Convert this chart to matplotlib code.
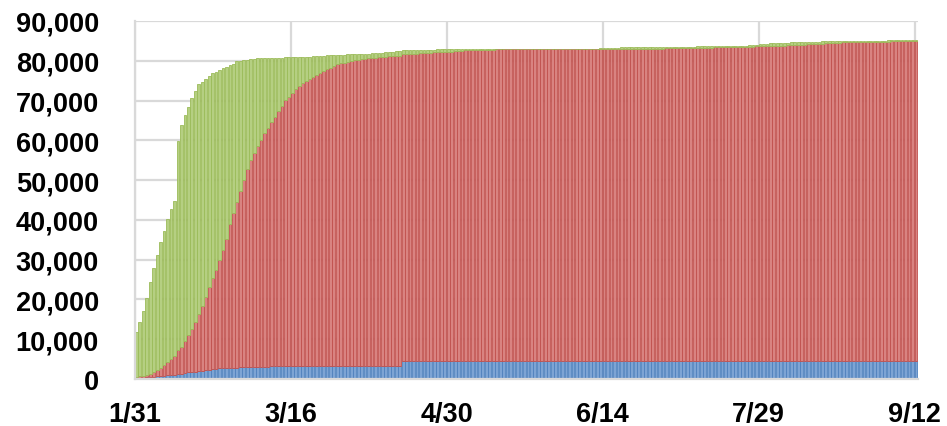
import numpy as np
import matplotlib
matplotlib.use('Agg')
import matplotlib.pyplot as plt
from matplotlib.ticker import FuncFormatter

# cumulative confirmed cases, one value per day from 1/31 to 9/12
confirmed_jan = [11791]
confirmed_feb = [14380, 17205, 20438, 24324, 28018, 31161, 34546, 37198, 40171, 42638,
                 44653, 59804, 63851, 66492, 68500, 70548, 72436, 74185, 74576, 75465,
                 76288, 76936, 77150, 77658, 78064, 78497, 78824, 79251, 79824]
confirmed_mar = [80026, 80151, 80270, 80409, 80552, 80651, 80695, 80735, 80754, 80778,
                 80793, 80813, 80824, 80844, 80860, 80881, 80894, 80928, 80967, 81008,
                 81054, 81093, 81171, 81218, 81285, 81340, 81394, 81439, 81470, 81518, 81554]
confirmed_apr = [81589, 81620, 81639, 81669, 81708, 81740, 81802, 81865, 81907, 81953,
                 82052, 82160, 82249, 82295, 82341, 82367, 82692, 82719, 82735, 82747,
                 82788, 82798, 82804, 82816, 82827, 82830, 82836, 82858, 82862, 82874]
confirmed_may = [82875, 82877, 82880, 82881, 82883, 82885, 82886, 82887, 82901, 82918,
                 82919, 82926, 82929, 82933, 82941, 82947, 82954, 82960, 82965, 82967,
                 82971, 82971, 82974, 82985, 82992, 82993, 82995, 82995, 82999, 83001, 83017]
confirmed_jun = [83022, 83021, 83022, 83027, 83030, 83036, 83040, 83043, 83046, 83057,
                 83064, 83075, 83132, 83181, 83221, 83265, 83293, 83325, 83352, 83378,
                 83396, 83418, 83430, 83449, 83462, 83483, 83500, 83512, 83531, 83534]
confirmed_jul = [83537, 83542, 83545, 83553, 83557, 83565, 83572, 83581, 83585, 83587,
                 83594, 83602, 83605, 83611, 83612, 83622, 83644, 83660, 83682, 83693,
                 83707, 83729, 83750, 83784, 83830, 83891, 83959, 84060, 84165, 84292, 84337]
confirmed_aug = [84385, 84428, 84464, 84491, 84528, 84565, 84596, 84619, 84668, 84712,
                 84737, 84756, 84786, 84808, 84827, 84849, 84871, 84888, 84895, 84917,
                 84939, 84951, 84967, 84981, 84996, 85004, 85013, 85022, 85031, 85048, 85058]
confirmed_sep = [85066, 85077, 85088, 85098, 85112, 85122, 85134, 85144, 85146, 85153,
                 85168, 85174]

# cumulative deaths
deaths_jan = [259]
deaths_feb = [304, 361, 425, 490, 563, 636, 722, 811, 908, 1016,
              1113, 1367, 1380, 1523, 1665, 1770, 1868, 2004, 2118, 2236,
              2345, 2442, 2592, 2663, 2715, 2744, 2788, 2835, 2870]
deaths_mar = [2912, 2943, 2981, 3012, 3042, 3070, 3097, 3119, 3136, 3158,
              3169, 3176, 3189, 3199, 3213, 3226, 3237, 3245, 3248, 3255,
              3261, 3270, 3277, 3281, 3287, 3292, 3295, 3300, 3304, 3305, 3312]
deaths_apr = [3318, 3322, 3326, 3329, 3331, 3331, 3333, 3335, 3336, 3339,
              3339, 3341, 3341, 3341, 3342, 3342, 4632, 4632, 4632, 4632,
              4632, 4632, 4632, 4632, 4632, 4632, 4632, 4632, 4632, 4632]
deaths_may = [4632, 4632, 4632, 4632, 4632, 4632, 4632, 4632, 4632, 4632,
              4632, 4632, 4632, 4632, 4632, 4633, 4633, 4633, 4633, 4633,
              4633, 4633, 4633, 4633, 4633, 4633, 4633, 4633, 4633, 4633, 4633]
deaths_jun = [4634, 4634, 4634, 4634, 4634, 4634, 4634, 4634, 4634, 4634,
              4634, 4634, 4634, 4634, 4634, 4634, 4634, 4634, 4634, 4634,
              4634, 4634, 4634, 4634, 4634, 4634, 4634, 4634, 4634, 4634]
deaths_jul = [4634, 4634, 4634, 4634, 4634, 4634, 4634, 4634, 4634, 4634,
              4634, 4634, 4634, 4634, 4634, 4634, 4634, 4634, 4634, 4634,
              4634, 4634, 4634, 4634, 4634, 4634, 4634, 4634, 4634, 4634, 4634]
deaths_aug = [4634, 4634, 4634, 4634, 4634, 4634, 4634, 4634, 4634, 4634,
              4634, 4634, 4634, 4634, 4634, 4634, 4634, 4634, 4634, 4634,
              4634, 4634, 4634, 4634, 4634, 4634, 4634, 4634, 4634, 4634, 4634]
deaths_sep = [4634, 4634, 4634, 4634, 4634, 4634, 4634, 4634, 4634, 4634,
              4634, 4634]

# cumulative recovered
recovered_jan = [243]
recovered_feb = [328, 475, 632, 892, 1153, 1540, 2050, 2649, 3281, 3996,
                 4740, 5911, 6723, 8096, 9419, 10844, 12552, 14376, 16155, 18264,
                 20659, 22888, 24734, 27323, 29745, 32495, 36117, 39002, 41625]
recovered_mar = [44462, 47204, 49856, 52045, 53726, 55404, 57065, 58600, 59897, 61475,
                 62793, 64111, 65541, 66911, 67749, 68679, 69601, 70420, 71150, 71740,
                 72244, 72703, 73159, 73650, 74051, 74588, 74971, 75448, 75770, 76052, 76238]
recovered_apr = [76408, 76571, 76751, 76964, 77078, 77167, 77279, 77370, 77455, 77525,
                 77575, 77663, 77738, 77816, 77892, 77944, 77062, 77084, 77125, 77150,
                 77151, 77207, 77257, 77346, 77394, 77474, 77555, 77578, 77610, 77642]
recovered_may = [77685, 77766, 77853, 77911, 77957, 78046, 78120, 78142, 78171, 78185,
                 78189, 78195, 78200, 78209, 78219, 78227, 78238, 78241, 78244, 78249,
                 78258, 78261, 78264, 78268, 78268, 78268, 78277, 78280, 78284, 78291, 78307]
recovered_jun = [78313, 78314, 78319, 78321, 78323, 78327, 78328, 78332, 78335, 78339,
                 78345, 78348, 78351, 78355, 78359, 78363, 78365, 78367, 78367, 78368,
                 78372, 78377, 78384, 78392, 78399, 78407, 78413, 78420, 78427, 78437]
recovered_jul = [78447, 78460, 78473, 78484, 78496, 78509, 78521, 78542, 78561, 78585,
                 78604, 78626, 78655, 78674, 78700, 78722, 78751, 78777, 78800, 78820,
                 78840, 78857, 78872, 78889, 78905, 78918, 78940, 78963, 78985, 79004, 79027]
recovered_aug = [79050, 79078, 79110, 79145, 79180, 79220, 79263, 79305, 79355, 79400,
                 79447, 79495, 79540, 79595, 79645, 79695, 79746, 79795, 79845, 79885,
                 79930, 79965, 80000, 80030, 80055, 80080, 80100, 80120, 80135, 80150, 80163]
recovered_sep = [80176, 80189, 80201, 80212, 80222, 80231, 80240, 80250, 80261, 80272,
                 80282, 80294]

tick_labels = ['1/31', '3/16', '4/30', '6/14', '7/29', '9/12']
tick_days = [0, 45, 90, 135, 180, 225]


def join(*months):
    return np.array([v for m in months for v in m], dtype=float)


confirmed = join(confirmed_jan, confirmed_feb, confirmed_mar, confirmed_apr, confirmed_may,
                 confirmed_jun, confirmed_jul, confirmed_aug, confirmed_sep)
deaths = join(deaths_jan, deaths_feb, deaths_mar, deaths_apr, deaths_may,
              deaths_jun, deaths_jul, deaths_aug, deaths_sep)
recovered = join(recovered_jan, recovered_feb, recovered_mar, recovered_apr, recovered_may,
                 recovered_jun, recovered_jul, recovered_aug, recovered_sep)
active = confirmed - deaths - recovered

days = np.arange(len(confirmed))

fig = plt.figure(figsize=(9.47, 4.27), dpi=100)
ax = fig.add_axes([135 / 947, 47 / 427, 783 / 947, 358 / 427])

ax.set_axisbelow(True)
ax.grid(True, color='#D9D9D9', linewidth=1.6)

w = 0.8
ax.bar(days, deaths, width=w, align='edge', color='#7DA4D4', edgecolor='#4F81BD', linewidth=0.6)
ax.bar(days, recovered, width=w, align='edge', bottom=deaths,
       color='#D98381', edgecolor='#C0504D', linewidth=0.6)
ax.bar(days, active, width=w, align='edge', bottom=deaths + recovered,
       color='#B5CF82', edgecolor='#9BBB59', linewidth=0.6)

ax.set_xlim(0, len(days))
ax.set_ylim(0, 90000)
ax.set_xticks(tick_days)
ax.set_xticklabels(tick_labels)
ax.set_yticks(np.arange(0, 90001, 10000))
ax.yaxis.set_major_formatter(FuncFormatter(lambda v, p: f'{int(v):,}'))

for lab in ax.get_xticklabels() + ax.get_yticklabels():
    lab.set_fontfamily('Liberation Sans')
    lab.set_fontweight('bold')
    lab.set_fontsize(19.5)

ax.tick_params(axis='both', length=0)
ax.tick_params(axis='y', pad=26)
ax.tick_params(axis='x', pad=16)

for s in ['top', 'right']:
    ax.spines[s].set_visible(False)
ax.spines['left'].set_color('#D9D9D9')
ax.spines['left'].set_linewidth(1.6)
ax.spines['bottom'].set_color('#D9D9D9')
ax.spines['bottom'].set_linewidth(1.6)

fig.savefig('out.png', dpi=100)
